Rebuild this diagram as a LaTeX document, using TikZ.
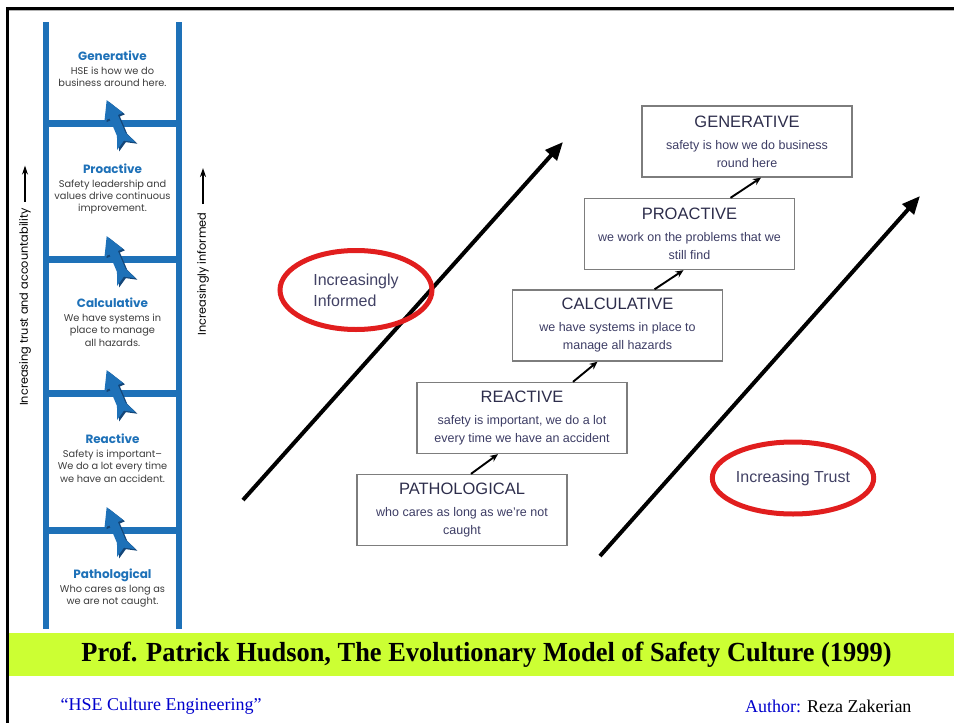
\documentclass[tikz,border=0pt]{standalone}
\usepackage{fontspec}
\setmainfont{Liberation Sans}
\newfontfamily\ladderfont{Poppins}
\newfontfamily\slidefont{Liberation Serif}
\usetikzlibrary{arrows.meta, positioning, shapes.geometric, calc}

\definecolor{ladderblue}{RGB}{30,113,184}
\definecolor{ladderdark}{RGB}{20,70,120}
\definecolor{laddergray}{RGB}{60,60,60}
\definecolor{titlenavy}{RGB}{45,45,75}
\definecolor{bodynavy}{RGB}{60,60,100}
\definecolor{boxgray}{RGB}{125,125,125}
\definecolor{ringred}{RGB}{225,30,30}
\definecolor{ringtext}{RGB}{65,65,100}
\definecolor{bandgreen}{RGB}{204,255,51}
\definecolor{footblue}{RGB}{0,0,204}

\newcommand{\boxhead}[1]{{\fontsize{16.5}{18}\selectfont\color{titlenavy}#1}}
\newcommand{\stagehead}[1]{{\fontsize{12}{13}\selectfont\bfseries\color{ladderblue}#1}}

\begin{document}
\begin{tikzpicture}[x=1pt, y=-1pt,
    rail/.style={ladderblue, line width=6.5pt},
    rung/.style={ladderblue, line width=7pt},
    stage/.style={align=center, text=laddergray, font=\ladderfont\fontsize{9.8}{12.2}\selectfont},
    sidelabel/.style={rotate=90, font=\ladderfont\fontsize{11.3}{12}\selectfont},
    sidearrow/.style={-{Stealth[length=9pt,width=6pt]}, line width=1.3pt},
    box/.style={draw=boxgray, line width=1.3pt, minimum width=210pt, minimum height=71pt, inner sep=0pt, align=center, text=bodynavy, font=\fontsize{12.5}{18}\selectfont},
    lift/.style={-{Stealth[length=8pt,width=7pt]}, line width=1.9pt},
    trend/.style={-{Triangle[length=18pt,width=15pt]}, line width=4pt},
    ring/.style={ellipse, draw=ringred, line width=5pt, inner sep=0pt, text=ringtext, font=\fontsize{16}{21}\selectfont}]

    \useasboundingbox (0,0) rectangle (954,723);

    % frame and band
    \fill[bandgreen] (8,633) rectangle (954,676);
    \draw[gray!60, line width=1.5pt] (9,10.5) -- (954,10.5);
    \draw[line width=3pt] (7,723) -- (7,8) -- (954,8);

    % ladder
    \draw[rail] (46,22) -- (46,629);
    \draw[rail] (179,22) -- (179,629);
    \foreach \y in {123,259,393,530} {
        \draw[rung] (46,\y) -- (179,\y);
    }
    \foreach \y in {123,259,393,530} {
        \fill[ladderdark, shift={(129,\y+26.5)}, rotate=113]
            (52,0) -- (34,10) -- (34,4.5) -- (15,4.5) -- (2,10) -- (8,0) -- (2,-10) -- (15,-4.5) -- (34,-4.5) -- (34,-10) -- cycle;
        \fill[ladderblue, shift={(127,\y+25)}, rotate=113]
            (52,0) -- (34,10) -- (34,4.5) -- (15,4.5) -- (2,10) -- (8,0) -- (2,-10) -- (15,-4.5) -- (34,-4.5) -- (34,-10) -- cycle;
    }

    % ladder stages
    \node[stage] (L5) at (112.5,69) {\stagehead{Generative}\\[2pt] HSE is how we do\\ business around here.};
    \node[stage] (L4) at (112.5,189) {\stagehead{Proactive}\\[2pt] Safety leadership and\\ values drive continuous\\ improvement.};
    \node[stage] (L3) at (112.5,322) {\stagehead{Calculative}\\[2pt] We have systems in\\ place to manage\\ all hazards.};
    \node[stage] (L2) at (112.5,458) {\stagehead{Reactive}\\[2pt] Safety is important–\\ We do a lot every time\\ we have an accident.};
    \node[stage] (L1) at (112.5,588) {\stagehead{Pathological}\\[2pt] Who cares as long as\\ we are not caught.};

    % side labels
    \node[sidelabel] (trustTxt) at (25,307) {Increasing trust and accountability};
    \draw[sidearrow] (trustTxt.east) ++(0,-3) -- ++(0,-36);
    \node[sidelabel] (infoTxt) at (203,274) {Increasingly informed};
    \draw[sidearrow] (infoTxt.east) ++(0,-5) -- ++(0,-36);

    % big trend arrows
    \coordinate (infoTail) at (243,500);
    \coordinate (infoHead) at (563,142);
    \coordinate (trustTail) at (600,556);
    \coordinate (trustHead) at (920,196);
    \draw[trend] (infoTail) -- (infoHead);
    \draw[trend] (trustTail) -- (trustHead);

    % culture boxes
    \node[box] (gen) at (747,141.5) {\boxhead{GENERATIVE}\\[4pt] safety is how we do business\\ round here};
    \node[box] (pro) at (689.5,234) {\boxhead{PROACTIVE}\\[4pt] we work on the problems that we\\ still find};
    \node[box] (cal) at (617.5,325.5) {\boxhead{CALCULATIVE}\\[4pt] we have systems in place to\\ manage all hazards};
    \node[box] (rea) at (522,418) {\boxhead{REACTIVE}\\[4pt] safety is important, we do a lot\\ every time we have an accident};
    \node[box] (pat) at (462,510) {\boxhead{PATHOLOGICAL}\\[4pt] who cares as long as we're not\\ caught};

    \draw[lift] ([xshift=9pt]pat.north) -- ([xshift=-24pt]rea.south);
    \draw[lift] ([xshift=51pt]rea.north) -- ([xshift=-20pt]cal.south);
    \draw[lift] ([xshift=37pt]cal.north) -- ([xshift=-6pt]pro.south);
    \draw[lift] ([xshift=41pt]pro.north) -- ([xshift=14pt]gen.south);

    % red rings
    \node[ring, minimum width=152pt, minimum height=79pt, align=left] (informed) at (356,290) {Increasingly\\Informed};
    \node[ring, minimum width=155pt, minimum height=72pt] (trust) at (793,478) {Increasing Trust};

    % title and footer
    \node[font=\slidefont\bfseries\fontsize{24}{24}\selectfont] (title) at (486.5,655) {\scalebox{1.1}[1.15]{Prof. Patrick Hudson, The Evolutionary Model of Safety Culture (1999)}};
    \node[anchor=west, text=footblue, font=\slidefont\fontsize{18}{18}\selectfont] (course) at (57,706) {“HSE Culture Engineering”};
    \node[anchor=east, font=\slidefont\fontsize{18}{18}\selectfont] (author) at (915,706) {\textcolor{footblue}{Author:} Reza Zakerian};
\end{tikzpicture}
\end{document}
